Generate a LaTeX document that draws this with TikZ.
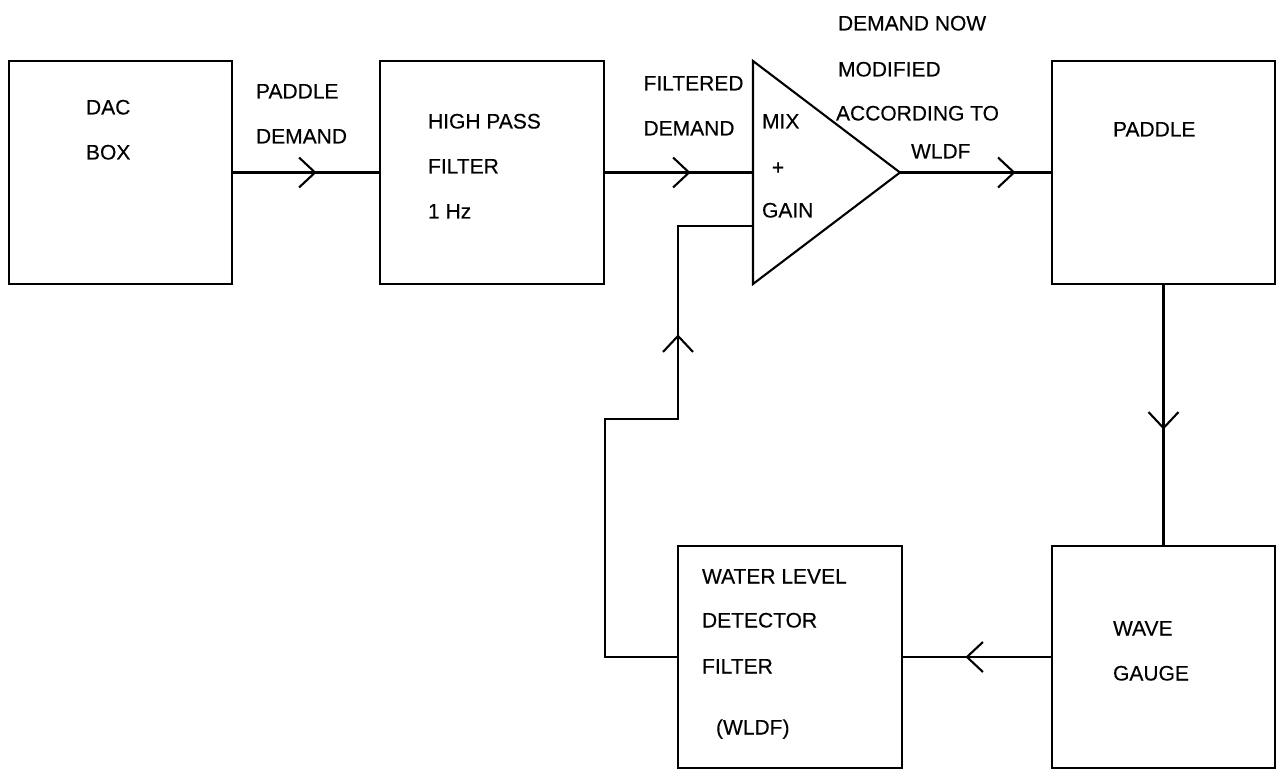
\documentclass[tikz,border=0pt]{standalone}
\usepackage{fontspec}
\setmainfont{Liberation Sans}
\newfontfamily\plotfont{Liberation Sans}[FakeBold=0.3]
\usetikzlibrary{decorations.markings}
\begin{document}
\begin{tikzpicture}[x=1pt,y=-1pt,line width=2.1pt,
  blk/.style={draw,minimum width=223pt,minimum height=223pt,inner sep=0pt},
  lbl/.style={anchor=base west,inner sep=0pt,font=\plotfont\fontsize{21}{25}\selectfont},
  flow/.style={postaction={decorate},decoration={markings,
    mark=at position #1 with {\draw[line width=2.1pt] (-16pt,-15pt) -- (0pt,0pt) -- (-16pt,15pt);}}}]
\useasboundingbox (0,0) rectangle (1288,775);

% blocks
\node[blk] (dac) at (120.5,172.5) {};
\node[blk,minimum width=224pt] (hpf) at (492,172.5) {};
\node[blk] (paddle) at (1163.5,172.5) {};
\node[blk,minimum width=224pt,minimum height=222pt] (wldf) at (790,657) {};
\node[blk,minimum height=222pt] (wg) at (1163.5,657) {};

% mixer / gain triangle
\draw (753,61) -- (900,172.5) -- (753,284) -- cycle;
\coordinate (mixin) at (753,172.5);
\coordinate (mixfb) at (753,226);
\coordinate (mixout) at (900,172.5);

% labels inside blocks
\node[lbl] (t1) at (85,114.5) {DAC};
\node[lbl] (t2) at (85,159.5) {BOX};
\node[lbl] (t3) at (427,128.5) {HIGH PASS};
\node[lbl] (t4) at (427,173.5) {FILTER};
\node[lbl] (t5) at (427,218.5) {1 Hz};
\node[lbl] (t6) at (761,128.5) {MIX};
\node[lbl,anchor=base] (t7) at (778,174.5) {+};
\node[lbl] (t8) at (761,217.5) {GAIN};
\node[lbl] (t9) at (1112,136.5) {PADDLE};
\node[lbl] (t10) at (701,583.5) {WATER LEVEL};
\node[lbl] (t11) at (701,627.5) {DETECTOR};
\node[lbl] (t12) at (701,673.5) {FILTER};
\node[lbl] (t13) at (715,734.5) {(WLDF)};
\node[lbl] (t14) at (1112,635.5) {WAVE};
\node[lbl] (t15) at (1112,680.5) {GAUGE};

% signal labels
\node[lbl] (s1) at (255,98.5) {PADDLE};
\node[lbl] (s2) at (255,143.5) {DEMAND};
\node[lbl] (s3) at (642.5,90.5) {FILTERED};
\node[lbl] (s4) at (642.5,135.5) {DEMAND};
\node[lbl] (s5) at (837,30.5) {DEMAND NOW};
\node[lbl] (s6) at (837,76.5) {MODIFIED};
\node[lbl] (s7) at (835,120.5) {ACCORDING TO};
\node[lbl] (s8) at (910,158.5) {WLDF};

% signal paths
\draw[flow=82pt] (dac.east) -- (hpf.west);
\draw[flow=84pt] (hpf.east) -- (mixin);
\draw[flow=114pt] (mixout) -- (paddle.west);
\draw[flow=143pt] (paddle.south) -- (wg.north);
\draw[flow=84pt] (wg.west) -- (wldf.east);
\draw[flow=466pt] (wldf.west) -- (605,657) -- (605,419) -- (678,419) -- (678,226) -- (mixfb);
\end{tikzpicture}
\end{document}
